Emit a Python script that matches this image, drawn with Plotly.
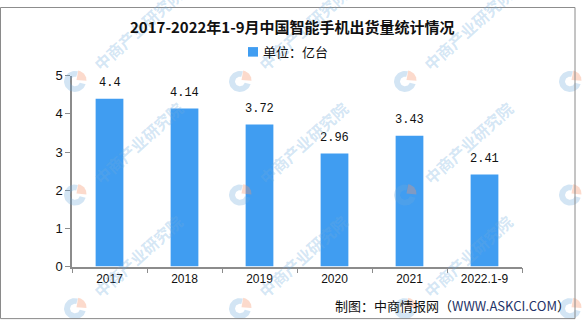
import numpy as np
import plotly.graph_objects as go

# Shipments of smartphones in China (100 million units)
categories = ["2017", "2018", "2019", "2020", "2021", "2022.1-9"]
shipments = [4.4, 4.14, 3.72, 2.96, 3.43, 2.41]
y_ticks = [0, 1, 2, 3, 4, 5]
series_name = "单位：亿台"

W, H = 585, 329
BAR = "#409df1"
AXIS = "#8c8c8c"
TXT = "#111111"

fig = go.Figure()

fig.add_trace(go.Bar(
    x=categories, y=shipments, name=series_name,
    marker=dict(color=BAR, line=dict(width=0)),
    width=0.37, xaxis="x", yaxis="y", showlegend=False,
    hoverinfo="x+y",
))

# value labels above each bar (category index positions)
for i, v in enumerate(shipments):
    fig.add_annotation(x=i, y=v, xref="x", yref="y", text=f"{v:g}",
                       showarrow=False, yanchor="bottom", yshift=7,
                       font=dict(family="Liberation Mono, DejaVu Sans Mono", size=12, color=TXT))

# ---- watermark layer drawn in pixel coordinates over the full canvas ----
wm_blue = "rgba(110,170,220,0.30)"
wm_orange = "rgba(245,150,110,0.35)"
logo_x = [75, 240, 405, 570]
logo_y = [78, 197, 316]

def sector(cx, cy, r0, r1, a0, a1, n=40):
    t = np.radians(np.linspace(a0, a1, n))
    xo = cx + r1 * np.cos(t)
    yo = cy - r1 * np.sin(t)
    xi = cx + r0 * np.cos(t[::-1])
    yi = cy - r0 * np.sin(t[::-1])
    return np.r_[xo, xi, xo[:1]], np.r_[yo, yi, yo[:1]]

for lx in logo_x:
    for ly in logo_y:
        bx, by = sector(lx, ly, 5, 11, 75, 345)
        fig.add_trace(go.Scatter(x=bx, y=by, mode="lines", fill="toself",
                                 fillcolor=wm_blue, line=dict(width=0),
                                 xaxis="x2", yaxis="y2", showlegend=False, hoverinfo="skip"))
        ox, oy = sector(lx + 1.5, ly - 1.5, 0, 10, -5, 80)
        fig.add_trace(go.Scatter(x=ox, y=oy, mode="lines", fill="toself",
                                 fillcolor=wm_orange, line=dict(width=0),
                                 xaxis="x2", yaxis="y2", showlegend=False, hoverinfo="skip"))
        fig.add_annotation(x=lx + 63, y=ly - 55, xref="x2", yref="y2",
                           text="<b>中商产业研究院</b>", showarrow=False, textangle=-42,
                           font=dict(family="Noto Sans CJK SC", size=16, color=wm_blue))

# frame around the canvas
fig.add_shape(type="rect", x0=0.5, y0=0.5, x1=575, y1=326.5, xref="x2", yref="y2",
              line=dict(color="#8a8a8a", width=1), fillcolor="rgba(0,0,0,0)", layer="above")

# legend key: small square swatch followed by the unit
fig.add_shape(type="rect", x0=248, x1=258, y0=42, y1=52, xref="x2", yref="y2",
              line=dict(width=0), fillcolor=BAR, layer="above")
fig.add_annotation(x=261, y=47, xref="x2", yref="y2", xanchor="left", text=series_name,
                   showarrow=False, font=dict(family="Noto Sans CJK SC", size=13, color=TXT))

# title and source
fig.add_annotation(x=292, y=20, xref="x2", yref="y2",
                   text="<b>2017-2022年1-9月中国智能手机出货量统计情况</b>",
                   showarrow=False, font=dict(family="Noto Sans CJK SC", size=15, color=TXT))
fig.add_annotation(x=572, y=313, xref="x2", yref="y2", xanchor="right",
                   text="制图：中商情报网（<span style='color:#1f3368'>WWW.ASKCI.COM</span>）",
                   showarrow=False, font=dict(family="Noto Sans CJK SC", size=13, color=TXT))

fig.update_layout(
    width=W, height=H,
    margin=dict(l=0, r=0, t=0, b=0),
    paper_bgcolor="white", plot_bgcolor="rgba(0,0,0,0)",
    font=dict(family="Noto Sans CJK SC", color=TXT),
    showlegend=False,
    xaxis=dict(type="category", domain=[72 / W, 522 / W], anchor="y",
               range=[-0.5, len(categories) - 0.5], showline=True,
               linecolor=AXIS, linewidth=1.5,
               ticks="outside", tickson="boundaries", ticklen=5, tickcolor=AXIS,
               showgrid=False, zeroline=False,
               tickfont=dict(family="Liberation Sans", size=12, color=TXT)),
    yaxis=dict(domain=[(H - 272) / H, (H - 72) / H], anchor="x", range=[0, 5], tickvals=y_ticks,
               showline=True, linecolor=AXIS, linewidth=1.5, ticks="outside",
               ticklen=5, tickcolor=AXIS, showgrid=False, zeroline=False,
               tickfont=dict(family="Liberation Sans", size=13, color=TXT)),
    xaxis2=dict(domain=[0, 1], range=[0, W], visible=False, fixedrange=True, anchor="y2"),
    yaxis2=dict(domain=[0, 1], range=[H, 0], visible=False, fixedrange=True, anchor="x2"),
)

fig.write_html("out.html")
